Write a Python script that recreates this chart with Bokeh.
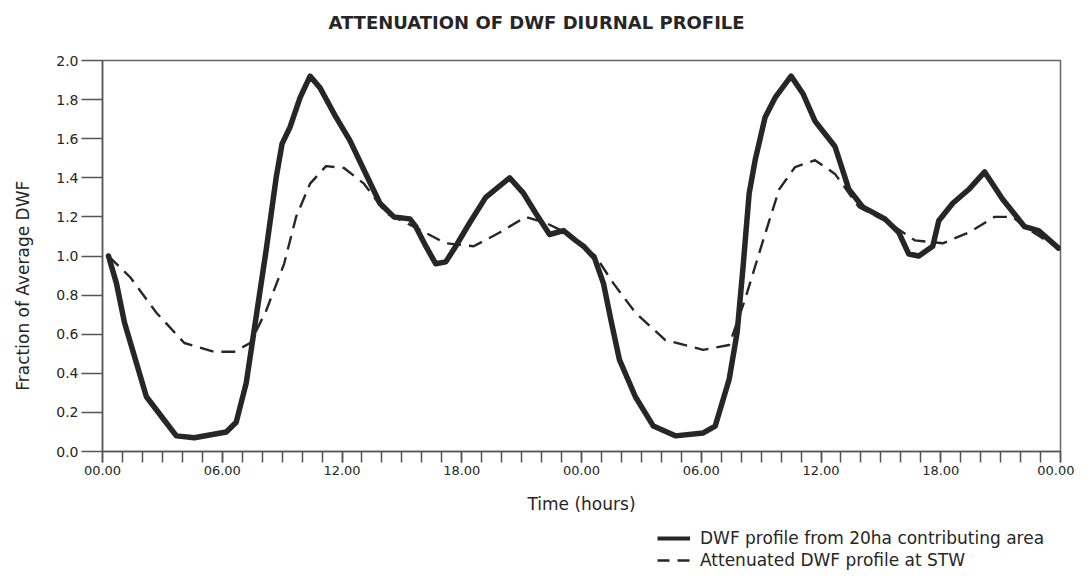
from bokeh.plotting import figure
from bokeh.models import FixedTicker, Range1d, Legend, LegendItem, Label
from bokeh.layouts import column
from bokeh.embed import file_html
from bokeh.resources import INLINE

# ---------------- data ----------------
solid_hours = [0.3, 0.7, 1.1, 2.2, 3.1, 3.7, 4.6, 6.2, 6.7, 7.2, 7.7, 8.2, 8.7, 9.0, 9.4, 9.9,
               10.4, 10.9, 11.7, 12.4, 13.1, 13.9, 14.6, 15.4, 15.7, 16.2, 16.7, 17.2, 17.7,
               18.4, 19.2, 20.4, 21.1, 21.7, 22.4, 23.1, 23.7, 24.1, 24.65, 25.1, 25.5, 25.9,
               26.7, 27.6, 28.7, 30.1, 30.7, 31.4, 31.8, 32.1, 32.4, 32.7, 33.2, 33.7, 34.5,
               35.1, 35.7, 36.7, 37.4, 38.1, 39.2, 39.9, 40.4, 40.9, 41.6, 41.9, 42.6, 43.4,
               44.2, 45.1, 46.2, 46.9, 47.9]
solid_values = [1.00, 0.86, 0.66, 0.28, 0.16, 0.08, 0.07, 0.10, 0.15, 0.35, 0.69, 1.03, 1.40,
                1.575, 1.66, 1.81, 1.92, 1.86, 1.71, 1.59, 1.44, 1.27, 1.20, 1.19, 1.15, 1.05,
                0.96, 0.97, 1.05, 1.17, 1.30, 1.40, 1.32, 1.22, 1.11, 1.13, 1.08, 1.05, 0.99,
                0.86, 0.66, 0.47, 0.28, 0.13, 0.08, 0.095, 0.13, 0.37, 0.61, 0.95, 1.32, 1.49,
                1.71, 1.81, 1.92, 1.83, 1.69, 1.56, 1.34, 1.25, 1.19, 1.12, 1.01, 1.00, 1.05,
                1.18, 1.27, 1.34, 1.43, 1.29, 1.15, 1.13, 1.04]

dashed_hours = [0.3, 1.4, 2.7, 4.1, 5.6, 6.6, 7.4, 8.2, 9.1, 9.7, 10.4, 11.2, 12.1, 13.1, 14.2,
                15.6, 17.2, 18.6, 19.9, 21.2, 22.2, 23.4, 24.7, 25.6, 26.7, 28.2, 30.1, 31.4,
                32.2, 33.1, 33.9, 34.7, 35.7, 36.7, 37.9, 39.4, 40.7, 42.1, 43.4, 44.7, 45.6,
                46.2, 47.9]
dashed_values = [1.00, 0.89, 0.71, 0.555, 0.51, 0.51, 0.555, 0.72, 0.96, 1.20, 1.37, 1.46, 1.45,
                 1.37, 1.22, 1.15, 1.065, 1.05, 1.12, 1.20, 1.17, 1.11, 1.00, 0.86, 0.71, 0.57,
                 0.52, 0.545, 0.78, 1.08, 1.34, 1.455, 1.49, 1.42, 1.25, 1.17, 1.08, 1.065, 1.12,
                 1.20, 1.20, 1.15, 1.04]

x_major_ticks = [0, 6, 12, 18, 24, 30, 36, 42, 48]
x_tick_labels = ["00.00", "06.00", "12.00", "18.00", "00.00", "06.00", "12.00", "18.00", "00.00"]
x_minor_ticks = list(range(0, 49))
y_ticks = [0.0, 0.2, 0.4, 0.6, 0.8, 1.0, 1.2, 1.4, 1.6, 1.8, 2.0]
y_tick_labels = ["0.0", "0.2", "0.4", "0.6", "0.8", "1.0", "1.2", "1.4", "1.6", "1.8", "2.0"]

title_text = "ATTENUATION OF DWF DIURNAL PROFILE"
x_title = "Time (hours)"
y_title = "Fraction of Average DWF"
solid_label = "DWF profile from 20ha contributing area"
dashed_label = "Attenuated DWF profile at STW"

FONT = "DejaVu Sans"
INK = "#262626"
AXIS = "#555555"
W = 1074
LEFT, RIGHT = 102, 14


def strip(height):
    f = figure(width=W, height=height, output_backend="svg", toolbar_location=None,
               x_axis_type=None, y_axis_type=None,
               min_border_left=LEFT, min_border_right=RIGHT, min_border_top=0, min_border_bottom=0,
               x_range=Range1d(0, 48), y_range=Range1d(0, 2.0))
    f.grid.visible = False
    f.outline_line_color = None
    f.border_fill_color = "white"
    f.background_fill_color = "white"
    return f


# ---------------- title strip ----------------
pt = strip(36)
pt.add_layout(Label(x=434, y=14, x_units="screen", y_units="screen", text=title_text,
                    text_font=FONT, text_font_size="18px", text_font_style="bold",
                    text_color=INK, text_align="center", text_baseline="middle"))

# ---------------- main figure ----------------
p = figure(width=W, height=480, output_backend="svg", toolbar_location=None,
           x_range=Range1d(0, 48), y_range=Range1d(0, 2.0),
           min_border_left=LEFT, min_border_right=RIGHT, min_border_top=24, min_border_bottom=64)
p.title = None
p.grid.visible = False
p.background_fill_color = "white"
p.border_fill_color = "white"
p.outline_line_color = "#666666"
p.outline_line_width = 1.5

p.line(solid_hours, solid_values, line_color=INK, line_width=5.5,
       line_join="round", line_cap="round")
p.line(dashed_hours, dashed_values, line_color=INK, line_width=2.4,
       line_dash="14 8", line_join="round")

xa = p.xaxis[0]
xa.ticker = FixedTicker(ticks=x_major_ticks, minor_ticks=x_minor_ticks)
xa.major_label_overrides = {t: l for t, l in zip(x_major_ticks, x_tick_labels)}
xa.axis_label = x_title
xa.axis_line_color = AXIS
xa.axis_line_width = 1.5
xa.major_tick_line_color = AXIS
xa.minor_tick_line_color = AXIS
xa.major_tick_line_width = 1.5
xa.minor_tick_line_width = 1.5
xa.major_tick_out = 11
xa.major_tick_in = 0
xa.minor_tick_out = 11
xa.minor_tick_in = 0
xa.major_label_standoff = 3
xa.major_label_text_font = FONT
xa.major_label_text_font_size = "13px"
xa.major_label_text_color = INK
xa.axis_label_text_font = FONT
xa.axis_label_text_font_size = "17px"
xa.axis_label_text_font_style = "normal"
xa.axis_label_text_color = INK
xa.axis_label_standoff = 16

ya = p.yaxis[0]
ya.ticker = FixedTicker(ticks=y_ticks, minor_ticks=[])
ya.major_label_overrides = {t: l for t, l in zip(y_ticks, y_tick_labels)}
ya.axis_label = y_title + "\u00a0" * 11
ya.axis_line_color = AXIS
ya.axis_line_width = 1.5
ya.major_tick_line_color = AXIS
ya.major_tick_line_width = 1.5
ya.major_tick_out = 21
ya.major_tick_in = 0
ya.minor_tick_out = 0
ya.minor_tick_in = 0
ya.major_label_standoff = 3
ya.major_label_text_font = FONT
ya.major_label_text_font_size = "14px"
ya.major_label_text_color = INK
ya.axis_label_text_font = FONT
ya.axis_label_text_font_size = "17px"
ya.axis_label_text_font_style = "normal"
ya.axis_label_text_color = INK
ya.axis_label_standoff = 20

# ---------------- legend strip ----------------
pl = strip(54)
pl.x_range = Range1d(100, 101)  # series drawn out of view; only the legend samples show
l1 = pl.line(solid_hours, solid_values, line_color=INK, line_width=4)
l2 = pl.line(dashed_hours, dashed_values, line_color=INK, line_width=2.4, line_dash="12 8")
legend = Legend(items=[LegendItem(label=solid_label, renderers=[l1]),
                       LegendItem(label=dashed_label, renderers=[l2])],
                location=(555, 0), orientation="vertical",
                glyph_width=33, glyph_height=20, label_height=20, label_standoff=10, spacing=2,
                padding=0, margin=0, border_line_alpha=0, background_fill_alpha=0,
                label_text_font=FONT, label_text_font_size="17px", label_text_color=INK)
pl.add_layout(legend, "center")

open("out.html", "w").write(file_html(column(pt, p, pl, spacing=0), INLINE))
